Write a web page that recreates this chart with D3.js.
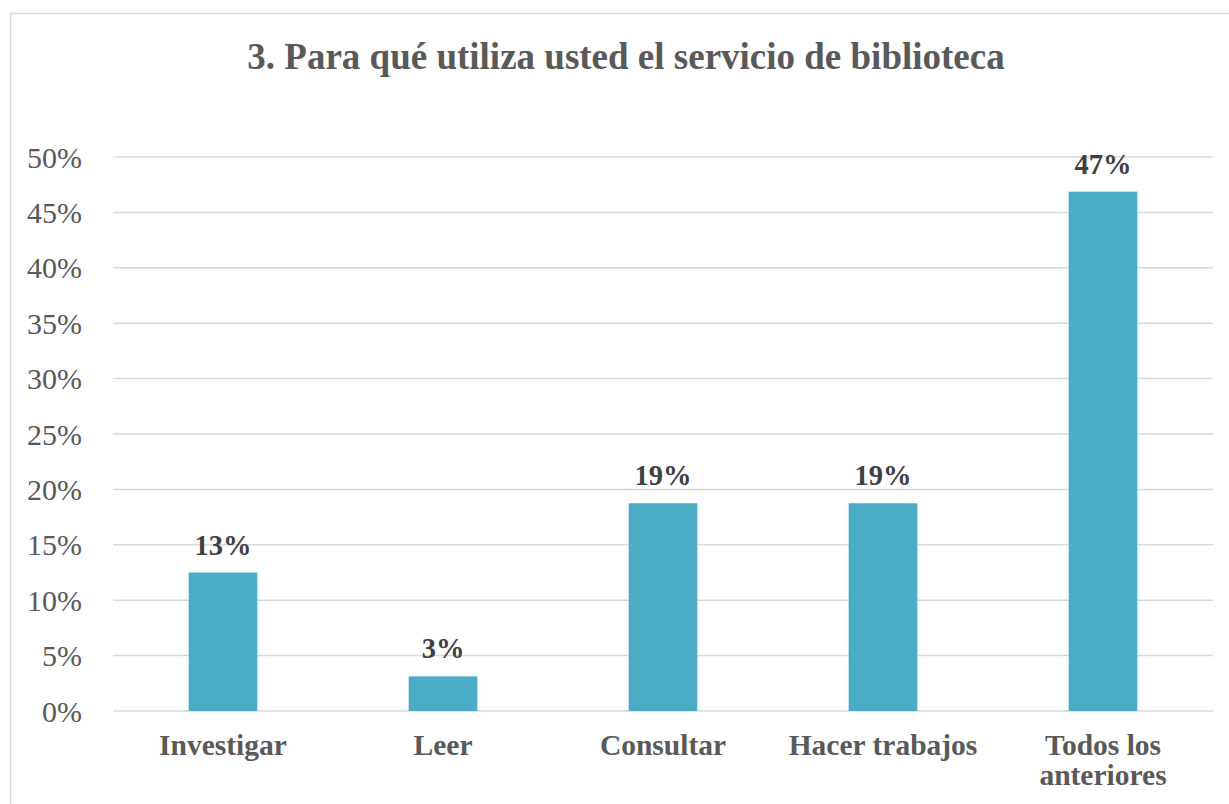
<!DOCTYPE html>
<html><head><meta charset="utf-8">
<script src="https://cdn.jsdelivr.net/npm/d3@7"></script>
<style>body{margin:0;background:#fff;} svg{display:block;}</style>
</head><body>
<script>
const categories = [["Investigar"],["Leer"],["Consultar"],["Hacer trabajos"],["Todos los","anteriores"]];
const values = [0.125, 0.03125, 0.1875, 0.1875, 0.46875];
const valueLabels = ["13%","3%","19%","19%","47%"];
const yTicks = [0,0.05,0.10,0.15,0.20,0.25,0.30,0.35,0.40,0.45,0.50];
const title = "3. Para qué utiliza usted el servicio de biblioteca";

const W = 1229, H = 804;
const font = "'Liberation Serif','Times New Roman',serif";
const svg = d3.select("body").append("svg").attr("width", W).attr("height", H);

svg.append("rect").attr("x",10.5).attr("y",13.5).attr("width",1240).attr("height",820)
  .attr("fill","#fff").attr("stroke","#d9d9d9").attr("stroke-width",1.5);

const plot = {left:113, right:1213, top:157, bottom:711};
const x = d3.scaleBand().domain(d3.range(categories.length)).range([plot.left, plot.right]);
const y = d3.scaleLinear().domain([0,0.5]).range([plot.bottom, plot.top]);
const barW = x.bandwidth()*0.312;

svg.append("g").selectAll("line").data(yTicks).join("line")
  .attr("x1",plot.left).attr("x2",plot.right)
  .attr("y1",d=>y(d)).attr("y2",d=>y(d))
  .attr("stroke","#d9d9d9").attr("stroke-width",1.5);

svg.append("g").selectAll("text").data(yTicks).join("text")
  .attr("x",82).attr("y",d=>y(d)+10.5).attr("text-anchor","end")
  .attr("font-family",font).attr("font-size",30).attr("fill","#595959")
  .text(d=>d3.format(".0%")(d));

svg.append("g").selectAll("rect").data(values).join("rect")
  .attr("x",(d,i)=>x(i)+x.bandwidth()/2-barW/2).attr("width",barW)
  .attr("y",d=>y(d)).attr("height",d=>y(0)-y(d)).attr("fill","#4bacc6");

svg.append("g").selectAll("text").data(values).join("text")
  .attr("x",(d,i)=>x(i)+x.bandwidth()/2).attr("y",d=>y(d)-18)
  .attr("text-anchor","middle").attr("font-family",font).attr("font-weight","bold")
  .attr("font-size",28.5).attr("fill","#404040").text((d,i)=>valueLabels[i]);

const cat = svg.append("g").selectAll("text").data(categories).join("text")
  .attr("x",(d,i)=>x(i)+x.bandwidth()/2).attr("y",755)
  .attr("text-anchor","middle").attr("font-family",font).attr("font-weight","bold")
  .attr("font-size",29.5).attr("fill","#595959");
cat.selectAll("tspan").data(d=>d).join("tspan")
  .attr("x",function(){return this.parentNode.getAttribute("x");})
  .attr("dy",(d,i)=>i===0?0:30).text(d=>d);

svg.append("text").attr("x",626).attr("y",69).attr("text-anchor","middle")
  .attr("font-family",font).attr("font-weight","bold").attr("font-size",37)
  .attr("fill","#595959").text(title);
</script>
</body></html>
